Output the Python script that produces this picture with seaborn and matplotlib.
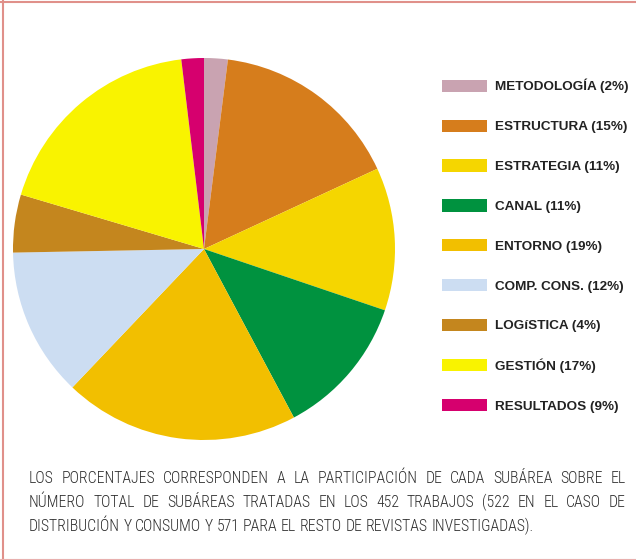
import matplotlib
matplotlib.use('Agg')
import matplotlib.pyplot as plt
import seaborn as sns
from matplotlib.patches import Patch
from matplotlib.lines import Line2D

# subareas, as printed in the legend
labels = ['METODOLOGÍA', 'ESTRUCTURA', 'ESTRATEGIA', 'CANAL', 'ENTORNO',
          'COMP. CONS.', 'LOGíSTICA', 'GESTIÓN', 'RESULTADOS']
legend_pct = [2, 15, 11, 11, 19, 12, 4, 17, 9]
# slice sizes as drawn in the pie
shares = [2.0, 16.1, 12.1, 12.0, 19.9, 12.6, 4.9, 18.5, 1.9]
colors = ['#C9A3B1', '#D67D1C', '#F5D600', '#00923F', '#F2BF00',
          '#CCDDF2', '#C4861E', '#F9F300', '#D6006E']

note_lines = [
    'LOS PORCENTAJES CORRESPONDEN A LA PARTICIPACIÓN DE CADA SUBÁREA SOBRE EL',
    'NÚMERO TOTAL DE SUBÁREAS TRATADAS EN LOS 452 TRABAJOS (522 EN EL CASO DE',
    'DISTRIBUCIÓN Y CONSUMO Y 571 PARA EL RESTO DE REVISTAS INVESTIGADAS).',
]

sns.set_theme(style='white')
plt.rcParams['font.family'] = ['Liberation Sans', 'DejaVu Sans']

W, H = 636, 560
fig = plt.figure(figsize=(W / 100, H / 100), dpi=100, facecolor='white')

# pie: centre (204, 249) px, radius 191 px
ax = fig.add_axes([13 / W, 1 - 440 / H, 382 / W, 382 / H])
ax.pie(shares, colors=colors, startangle=90, counterclock=False,
       wedgeprops=dict(linewidth=0))
ax.set_xlim(-1, 1)
ax.set_ylim(-1, 1)
ax.set_aspect('equal')

# legend
handles = [Patch(facecolor=c, edgecolor='none') for c in colors]
leg_labels = [f'{l} ({p}%)' for l, p in zip(labels, legend_pct)]
fig.legend(handles, leg_labels, loc='upper left',
           bbox_to_anchor=(442 / W, 1 - 79 / H), frameon=False,
           borderpad=0, borderaxespad=0, handlelength=3.34, handleheight=1.04,
           handletextpad=0.59, labelspacing=1.93,
           prop={'weight': 'bold', 'size': 9.7}, labelcolor='#222222')

# frame lines
border = '#E0908A'
fig.add_artist(Line2D([0, 1], [1 - 1.5 / H] * 2, transform=fig.transFigure,
                      color=border, lw=1.5))
fig.add_artist(Line2D([3.5 / W] * 2, [0, 1], transform=fig.transFigure,
                      color=border, lw=1.5))
fig.add_artist(Line2D([0, 1], [1.5 / H] * 2, transform=fig.transFigure,
                      color='#E8B0AE', lw=0.8))

# justified footnote
renderer = fig.canvas.get_renderer()
note_font = dict(family=['Roboto Condensed', 'Liberation Sans'],
                 weight='light', size=11.3, color='#2e2e2e',
                 va='baseline', ha='left')
x0, x1 = 29, 626
baselines = [483, 507, 531]
space = fig.text(0, 0, 'A A', **note_font)
a = fig.text(0, 0, 'AA', **note_font)
space_w = space.get_window_extent(renderer).width - a.get_window_extent(renderer).width
space.remove()
a.remove()
for i, (line, yb) in enumerate(zip(note_lines, baselines)):
    words = line.split()
    texts = [fig.text(0, 1 - yb / H, w, **note_font) for w in words]
    widths = [t.get_window_extent(renderer).width for t in texts]
    if i < len(note_lines) - 1:
        gap = (x1 - x0 - sum(widths)) / (len(words) - 1)
    else:
        gap = space_w
    x = x0
    for t, w in zip(texts, widths):
        t.set_x(x / W)
        x += w + gap

fig.savefig('out.png', dpi=100, facecolor='white')
